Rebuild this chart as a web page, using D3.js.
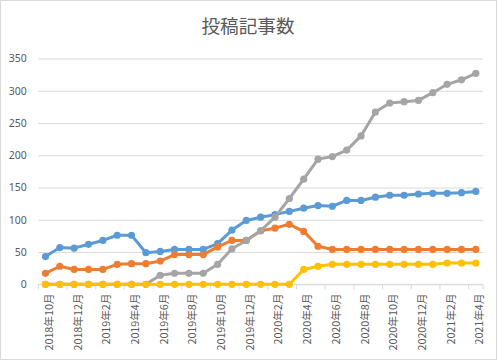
<!DOCTYPE html>
<html><head><meta charset="utf-8">
<script src="https://cdn.jsdelivr.net/npm/d3@7"></script>
<style>html,body{margin:0;padding:0;background:#fff;}svg{display:block;}</style>
</head><body>
<svg id="c" width="498" height="361"></svg>
<script>
const categories = ["2018年10月","2018年11月","2018年12月","2019年1月","2019年2月","2019年3月","2019年4月","2019年5月","2019年6月","2019年7月","2019年8月","2019年9月","2019年10月","2019年11月","2019年12月","2020年1月","2020年2月","2020年3月","2020年4月","2020年5月","2020年6月","2020年7月","2020年8月","2020年9月","2020年10月","2020年11月","2020年12月","2021年1月","2021年2月","2021年3月","2021年4月"];
const blue   = [43,57,56,62,68,76,76,49,51,54,54,54,63,84,99,104,108,113,118,122,121,130,130,135,138,138,140,141,141,142,144];
const orange = [17,28,23,23,23,31,32,32,36,46,46,46,58,68,68,83,87,93,82,59,54,54,54,54,54,54,54,54,54,54,54];
const gray   = [0,0,0,0,0,0,0,0,14,17,17,17,31,55,68,83,104,133,163,194,198,208,230,267,281,283,285,297,310,317,327];
const yellow = [0,0,0,0,0,0,0,0,0,0,0,0,0,0,0,0,0,0,23,28,31,31,31,31,31,31,31,31,33,33,33];
const yTicks = [0,50,100,150,200,250,300,350];
const title = "投稿記事数";

(function(){
const series = [
  {values: blue, color: "#5B9BD5"},
  {values: orange, color: "#ED7D31"},
  {values: gray, color: "#A5A5A5"},
  {values: yellow, color: "#FFC000"}
];

const svg = d3.select("#c");
const W = 498, H = 361;
const pL = 38.3, pR = 483, pT = 58.5, pB = 284.3;

svg.append("rect").attr("x",0.5).attr("y",0.5).attr("width",W-2).attr("height",H-2)
  .attr("fill","#fff").attr("stroke","#d9d9d9").attr("stroke-width",1);

const x = d3.scaleBand().domain(d3.range(categories.length)).range([pL,pR]).padding(0);
const y = d3.scaleLinear().domain([0,350]).range([pB,pT]);
const cx = i => x(i) + x.bandwidth()/2;

svg.append("text").attr("x",248).attr("y",33).attr("text-anchor","middle")
  .attr("font-family","'Noto Sans CJK JP'").attr("font-size","18.6px").attr("fill","#595959")
  .text(title);

const yAxis = d3.axisLeft(y).tickValues(yTicks).tickSize(-(pR-pL)).tickPadding(11);
const gy = svg.append("g").attr("transform",`translate(${pL},0)`).call(yAxis);
gy.select(".domain").remove();
gy.selectAll(".tick line").attr("stroke","#d9d9d9").attr("stroke-width",1);
gy.selectAll(".tick text").attr("fill","#595959").attr("font-family","'Noto Sans','Liberation Sans',sans-serif")
  .attr("font-size","10.5px").attr("x",-11.5);

svg.append("line").attr("x1",pL).attr("x2",pR).attr("y1",y(0)).attr("y2",y(0))
  .attr("stroke","#d9d9d9").attr("stroke-width",1);
const bounds = d3.range(0, categories.length, 2).map(i => x(i));
bounds.push(pR);
svg.append("g").selectAll("line").data(bounds).join("line")
  .attr("x1",d=>d).attr("x2",d=>d).attr("y1",y(0)).attr("y2",y(0)+5)
  .attr("stroke","#d9d9d9").attr("stroke-width",1);
svg.append("g").selectAll("text").data(d3.range(0,categories.length,2)).join("text")
  .attr("transform",i=>`translate(${cx(i)+3},293.5) rotate(-90)`)
  .attr("text-anchor","end").attr("dominant-baseline","central")
  .attr("font-family","'Noto Sans CJK JP'").attr("font-size","10.7px").attr("fill","#595959")
  .text(i=>categories[i]);

const line = d3.line().x((d,i)=>cx(i)).y(d=>y(d));
series.forEach(s=>{
  const g = svg.append("g");
  g.append("path").datum(s.values).attr("d",line).attr("fill","none")
    .attr("stroke",s.color).attr("stroke-width",3).attr("stroke-linejoin","round");
  g.selectAll("circle").data(s.values).join("circle")
    .attr("cx",(d,i)=>cx(i)).attr("cy",d=>y(d)).attr("r",3.6).attr("fill",s.color);
});
})();
</script>
</body></html>
